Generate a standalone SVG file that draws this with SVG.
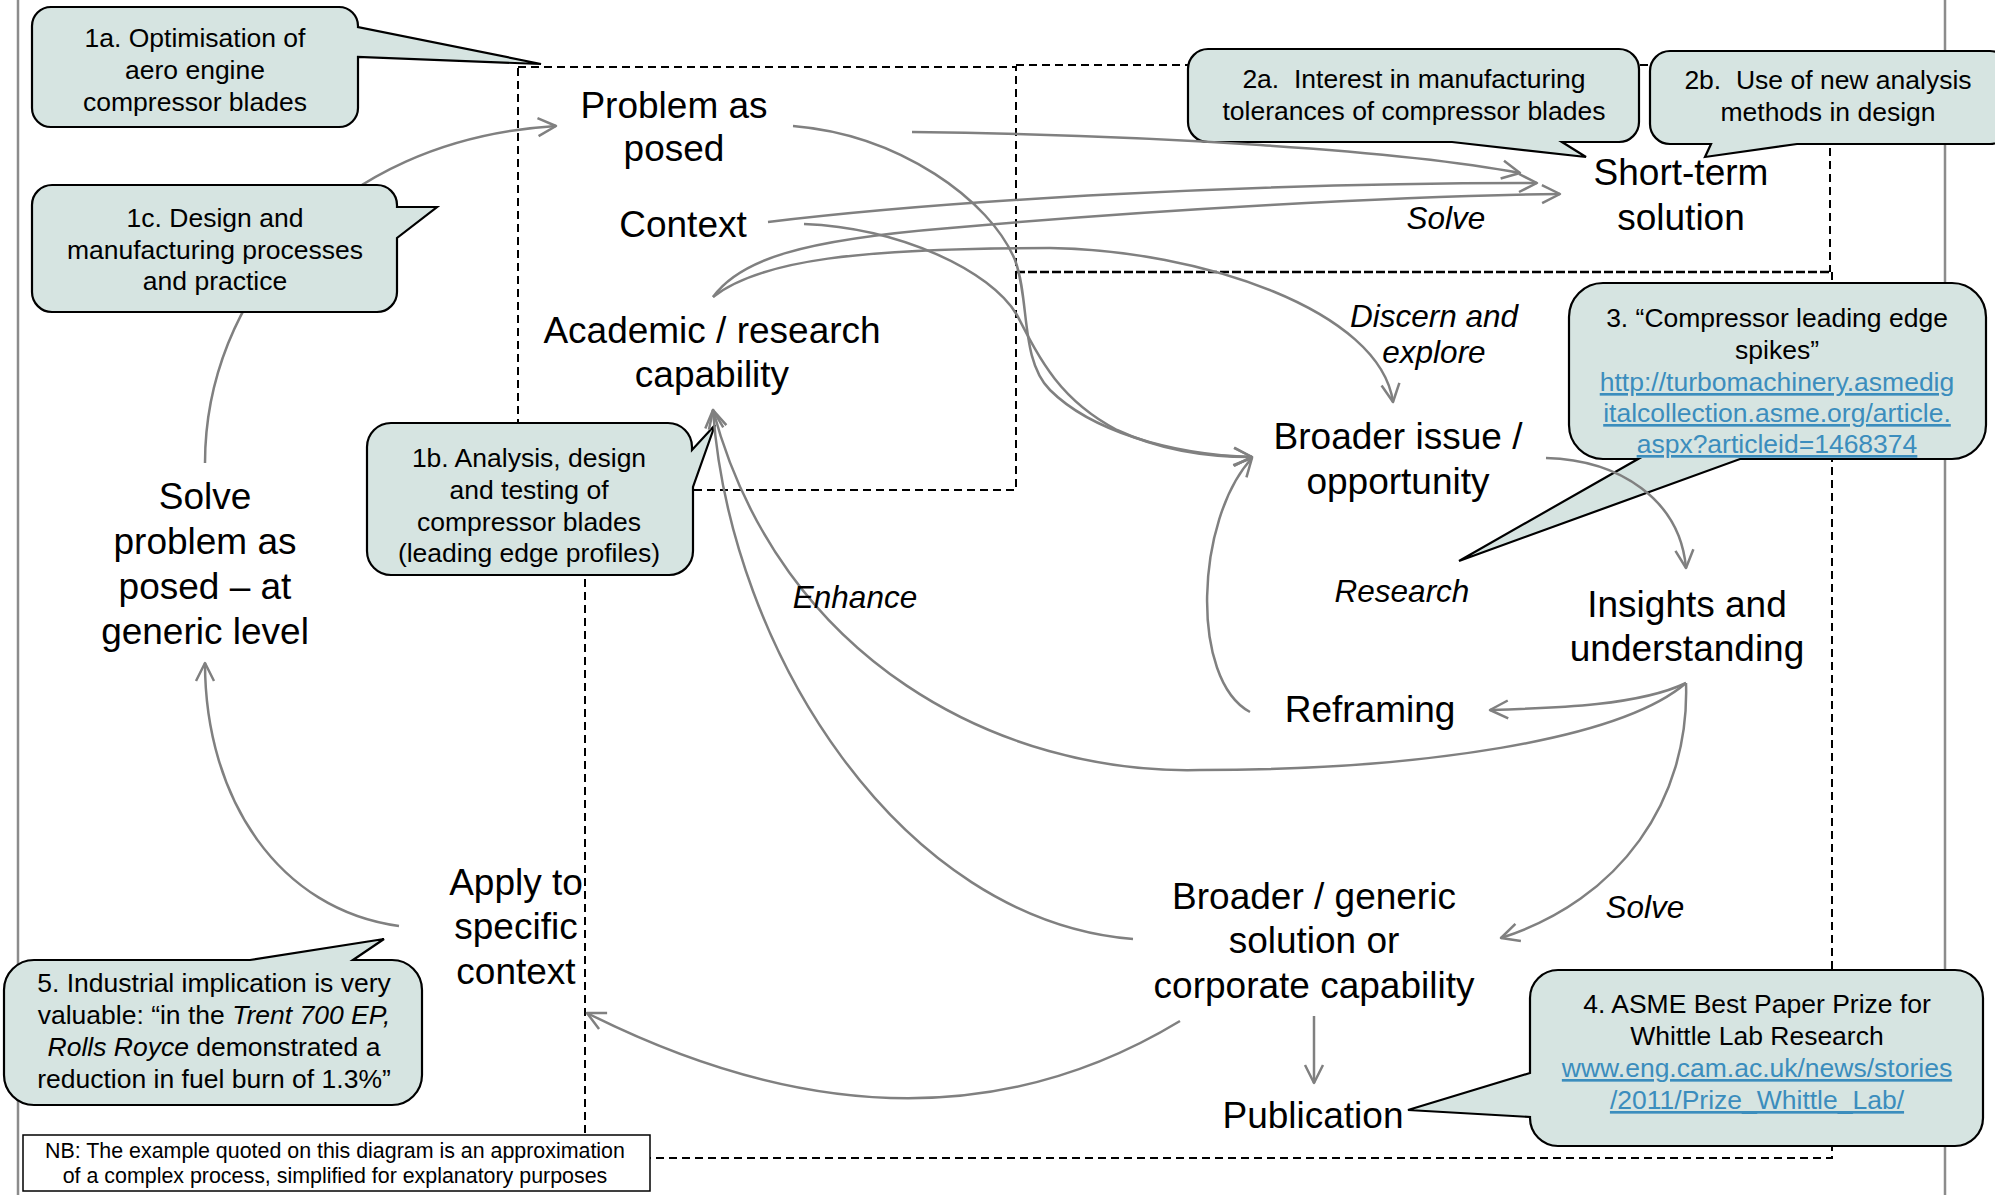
<svg xmlns="http://www.w3.org/2000/svg" width="1995" height="1195" viewBox="0 0 1995 1195">
<defs>
<style>
text{font-family:"Liberation Sans",Arial,sans-serif;fill:#000;text-anchor:middle}
.lbl{font-size:37px}
.it{font-size:31.5px;font-style:italic}
.co{font-size:26.5px}
.lnk{fill:#3b8dbd;text-decoration:underline}
.nb{font-size:21.4px}
.conn{fill:none;stroke:#808080;stroke-width:2.5}
.dash{fill:none;stroke:#000;stroke-width:2;stroke-dasharray:8 5}
.dense{fill:none;stroke:#000;stroke-width:2.6;stroke-dasharray:9 3}
.call{fill:#d6e4e1;stroke:#000;stroke-width:2.2;stroke-linejoin:miter}
.frame{stroke:#8c8c8c;stroke-width:2.5}
</style>
<marker id="ah" markerUnits="userSpaceOnUse" markerWidth="26" markerHeight="26" refX="20" refY="11" orient="auto" overflow="visible">
<path d="M 2 2 L 20 11 L 2 20" fill="none" stroke="#808080" stroke-width="2.5" stroke-linejoin="round"/>
</marker>
</defs>
<rect width="1995" height="1195" fill="#fff"/>
<g id="frame">
<line class="frame" x1="18" y1="0" x2="18" y2="1195"/>
<line class="frame" x1="1945" y1="0" x2="1945" y2="1195"/>
</g>
<g id="regions">
<rect class="dash" x="518" y="67" width="498" height="423"/>
<path class="dash" d="M 1016 65 H 1830 V 272"/>
<path class="dense" d="M 1016 272 H 1830"/>
<path class="dash" d="M 1832 272 V 1158 H 585 V 490"/>
</g>
<g id="callouts-back">
<g id="callout-1a">
<path class="call" d="M 51 7 H 339 A 19 19 0 0 1 358 26 V 27 L 541 64 L 358 57 V 108 A 19 19 0 0 1 339 127 H 51 A 19 19 0 0 1 32 108 V 26 A 19 19 0 0 1 51 7 Z"/>
<text class="co"><tspan x="195" y="47">1a. Optimisation of</tspan><tspan x="195" y="79">aero engine</tspan><tspan x="195" y="111">compressor blades</tspan></text>
</g>
<g id="callout-1b">
<path class="call" d="M 391 423 H 668 A 24 24 0 0 1 692 447 V 450 L 715 425 L 693 487 V 551 A 24 24 0 0 1 668 575 H 391 A 24 24 0 0 1 367 551 V 447 A 24 24 0 0 1 391 423 Z"/>
<text class="co"><tspan x="529" y="467">1b. Analysis, design</tspan><tspan x="529" y="499">and testing of</tspan><tspan x="529" y="531">compressor blades</tspan><tspan x="529" y="562">(leading edge profiles)</tspan></text>
</g>
<g id="callout-2a">
<path class="call" d="M 1208 49 H 1619 A 20 20 0 0 1 1639 69 V 122 A 20 20 0 0 1 1619 142 H 1562 L 1586 157 L 1452 142 H 1208 A 20 20 0 0 1 1188 122 V 69 A 20 20 0 0 1 1208 49 Z"/>
<text class="co"><tspan x="1414" y="88">2a.&#160; Interest in manufacturing</tspan><tspan x="1414" y="120">tolerances of compressor blades</tspan></text>
</g>
<g id="callout-2b">
<path class="call" d="M 1670 51 H 1990 A 20 20 0 0 1 2010 71 V 124 A 20 20 0 0 1 1990 144 H 1797 L 1705 157 L 1711 144 H 1670 A 20 20 0 0 1 1650 124 V 71 A 20 20 0 0 1 1670 51 Z"/>
<text class="co"><tspan x="1828" y="89">2b.&#160; Use of new analysis</tspan><tspan x="1828" y="121">methods in design</tspan></text>
</g>
<g id="callout-3">
<path class="call" d="M 1603 283 H 1952 A 34 34 0 0 1 1986 317 V 425 A 34 34 0 0 1 1952 459 H 1740 L 1459 561 L 1638 459 H 1603 A 34 34 0 0 1 1569 425 V 317 A 34 34 0 0 1 1603 283 Z"/>
<text class="co"><tspan x="1777" y="327">3. “Compressor leading edge</tspan><tspan x="1777" y="359">spikes”</tspan><tspan class="lnk" x="1777" y="391">http://turbomachinery.asmedig</tspan><tspan class="lnk" x="1777" y="422">italcollection.asme.org/article.</tspan><tspan class="lnk" x="1777" y="453">aspx?articleid=1468374</tspan></text>
</g>
<g id="callout-4">
<path class="call" d="M 1558 970 H 1955 A 28 28 0 0 1 1983 998 V 1118 A 28 28 0 0 1 1955 1146 H 1558 A 28 28 0 0 1 1530 1118 V 1117 L 1408 1110 L 1530 1073 V 998 A 28 28 0 0 1 1558 970 Z"/>
<text class="co"><tspan x="1757" y="1013">4. ASME Best Paper Prize for</tspan><tspan x="1757" y="1045">Whittle Lab Research</tspan><tspan class="lnk" x="1757" y="1077">www.eng.cam.ac.uk/news/stories</tspan><tspan class="lnk" x="1757" y="1109">/2011/Prize_Whittle_Lab/</tspan></text>
</g>
<g id="callout-5">
<path class="call" d="M 34 960 H 250 L 384 939 L 353 960 H 392 A 30 30 0 0 1 422 990 V 1075 A 30 30 0 0 1 392 1105 H 34 A 30 30 0 0 1 4 1075 V 990 A 30 30 0 0 1 34 960 Z"/>
<text class="co"><tspan x="214" y="992">5. Industrial implication is very</tspan><tspan x="214" y="1024">valuable: “in the <tspan font-style="italic">Trent 700 EP,</tspan></tspan><tspan x="214" y="1056"><tspan font-style="italic">Rolls Royce</tspan> demonstrated a</tspan><tspan x="214" y="1088">reduction in fuel burn of 1.3%”</tspan></text>
</g>
</g>
<g id="connectors">
<path class="conn" marker-end="url(#ah)" d="M 205 463 C 205 300 330 140 556 126"/>
<path class="conn" marker-end="url(#ah)" d="M 793 126 C 900 135 990 200 1015 260 C 1030 300 1020 360 1050 390 C 1090 430 1170 455 1252 457"/>
<path class="conn" marker-end="url(#ah)" d="M 804 224 C 900 228 990 270 1017 315 C 1040 360 1060 400 1117 430 C 1160 450 1210 457 1252 457"/>
<path class="conn" marker-end="url(#ah)" d="M 912 132 C 1150 135 1400 150 1520 173"/>
<path class="conn" marker-end="url(#ah)" d="M 768 222 C 950 200 1250 183 1537 183"/>
<path class="conn" marker-end="url(#ah)" d="M 713 297 C 740 260 800 240 950 228 C 1150 210 1400 196 1560 194"/>
<path class="conn" marker-end="url(#ah)" d="M 713 297 C 760 260 860 248 1050 248 C 1200 250 1380 310 1393 402"/>
<path class="conn" marker-end="url(#ah)" d="M 1546 458 C 1620 460 1680 500 1686 568"/>
<path class="conn" marker-end="url(#ah)" d="M 1686 683 C 1640 705 1560 708 1490 710"/>
<path class="conn" marker-end="url(#ah)" d="M 1686 683 C 1620 740 1420 770 1200 770 C 1000 775 780 660 713 410"/>
<path class="conn" marker-end="url(#ah)" d="M 1686 683 C 1690 800 1620 900 1501 938"/>
<path class="conn" marker-end="url(#ah)" d="M 1250 712 C 1190 680 1195 520 1252 458"/>
<path class="conn" marker-end="url(#ah)" d="M 1133 939 C 900 920 730 650 713 410"/>
<path class="conn" marker-end="url(#ah)" d="M 1180 1021 C 1000 1130 800 1120 587 1013"/>
<path class="conn" marker-end="url(#ah)" d="M 1314 1016 V 1083"/>
<path class="conn" marker-end="url(#ah)" d="M 399 926 C 280 910 205 800 205 663"/>
</g>
<g id="callout-1c">
<path class="call" d="M 52 185 H 377 A 20 20 0 0 1 397 205 V 207 L 437 207 L 397 238 V 292 A 20 20 0 0 1 377 312 H 52 A 20 20 0 0 1 32 292 V 205 A 20 20 0 0 1 52 185 Z"/>
<text class="co"><tspan x="215" y="227">1c. Design and</tspan><tspan x="215" y="259">manufacturing processes</tspan><tspan x="215" y="290">and practice</tspan></text>
</g>
<g id="node-problem"><text class="lbl"><tspan x="674" y="118">Problem as</tspan><tspan x="674" y="161">posed</tspan></text></g>
<g id="node-context"><text class="lbl" x="683" y="237">Context</text></g>
<g id="node-academic"><text class="lbl"><tspan x="712" y="343">Academic / research</tspan><tspan x="712" y="387">capability</tspan></text></g>
<g id="node-shortterm"><text class="lbl"><tspan x="1681" y="185">Short-term</tspan><tspan x="1681" y="230">solution</tspan></text></g>
<g id="node-broader-issue"><text class="lbl"><tspan x="1398" y="449">Broader issue /</tspan><tspan x="1398" y="494">opportunity</tspan></text></g>
<g id="node-insights"><text class="lbl"><tspan x="1687" y="617">Insights and</tspan><tspan x="1687" y="661">understanding</tspan></text></g>
<g id="node-reframing"><text class="lbl" x="1370" y="722">Reframing</text></g>
<g id="node-generic"><text class="lbl"><tspan x="1314" y="909">Broader / generic</tspan><tspan x="1314" y="953">solution or</tspan><tspan x="1314" y="998">corporate capability</tspan></text></g>
<g id="node-publication"><text class="lbl" x="1313" y="1128">Publication</text></g>
<g id="node-solve-generic"><text class="lbl"><tspan x="205" y="509">Solve</tspan><tspan x="205" y="554">problem as</tspan><tspan x="205" y="599">posed – at</tspan><tspan x="205" y="644">generic level</tspan></text></g>
<g id="node-apply"><text class="lbl"><tspan x="516" y="895">Apply to</tspan><tspan x="516" y="939">specific</tspan><tspan x="516" y="984">context</tspan></text></g>
<g id="edge-labels">
<text class="it" x="1446" y="229">Solve</text>
<text class="it"><tspan x="1434" y="327">Discern and</tspan><tspan x="1434" y="363">explore</tspan></text>
<text class="it" x="1402" y="602">Research</text>
<text class="it" x="855" y="608">Enhance</text>
<text class="it" x="1645" y="918">Solve</text>
</g>
<g id="note">
<rect x="23" y="1135" width="627" height="56" fill="#fff" stroke="#000" stroke-width="1.5"/>
<text class="nb"><tspan x="335" y="1158">NB: The example quoted on this diagram is an approximation</tspan><tspan x="335" y="1183">of a complex process, simplified for explanatory purposes</tspan></text>
</g>
</svg>
